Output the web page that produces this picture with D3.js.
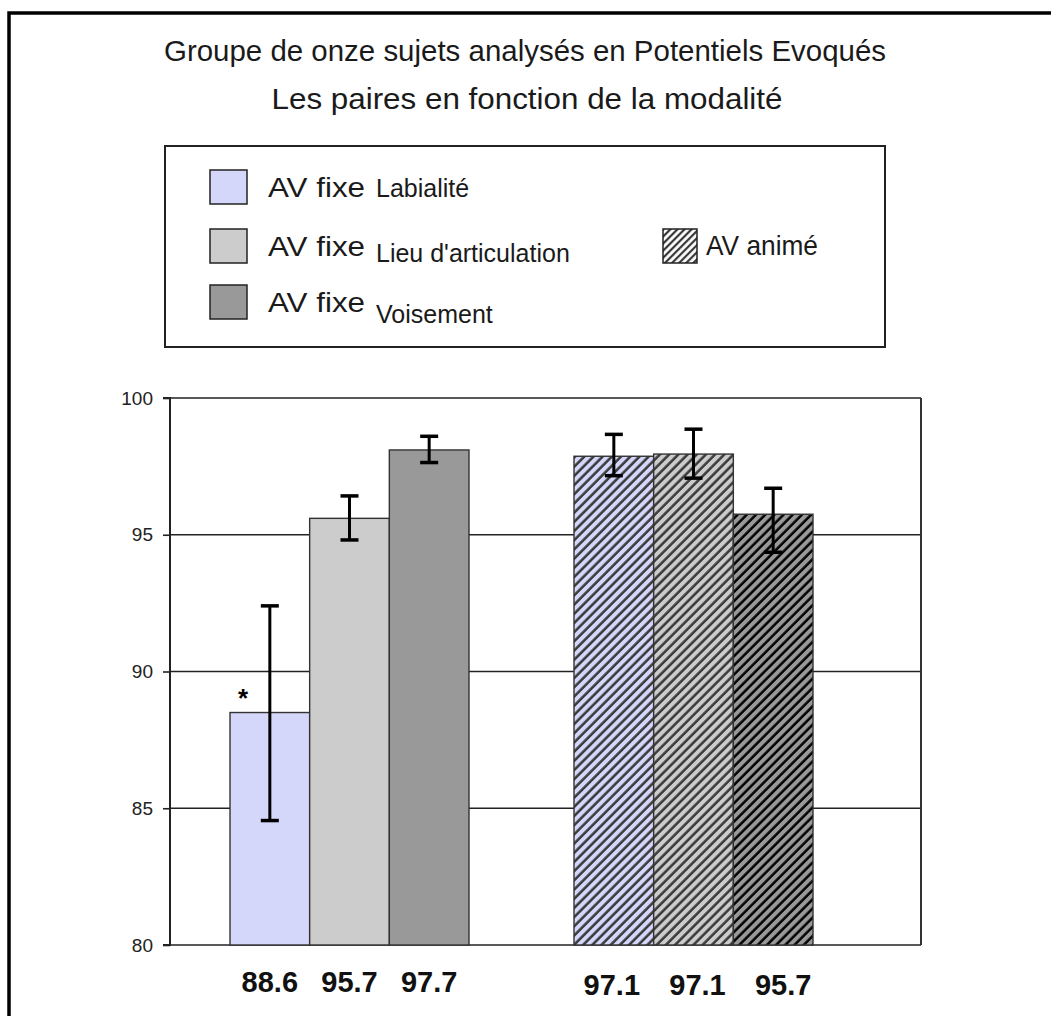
<!DOCTYPE html>
<html><head><meta charset="utf-8">
<script src="https://cdn.jsdelivr.net/npm/d3@7"></script>
<style>body{margin:0;background:#fff}svg{display:block}text{font-family:"Liberation Sans",Arial,sans-serif}</style>
</head><body>
<svg id="c" width="1051" height="1016"></svg>
<script>
const titleLines = ["Groupe de onze sujets analysés en Potentiels Evoqués", "Les paires en fonction de la modalité"];
const groups = ["AV fixe", "AV animé"];
const seriesNames = ["Labialité", "Lieu d'articulation", "Voisement"];
const seriesColors = ["#d4d6fa", "#cccccc", "#999999"];
const fixeValues = [88.5, 95.6, 98.1];
const animeValues = [97.87, 97.95, 95.75];
const fixeErrPlus = [3.9, 0.82, 0.5];
const fixeErrMinus = [3.95, 0.79, 0.46];
const animeErrPlus = [0.8, 0.91, 0.95];
const animeErrMinus = [0.71, 0.88, 1.39];
const fixeLabels = ["88.6", "95.7", "97.7"];
const animeLabels = ["97.1", "97.1", "95.7"];
const yTicks = [80, 85, 90, 95, 100];
const significance = ["*", "", ""];

const svg = d3.select("#c");
svg.append("path").attr("d","M9,1016V13H1051").attr("fill","none").attr("stroke","#000").attr("stroke-width",3.5);

svg.append("text").attr("x",525).attr("y",61).attr("text-anchor","middle").attr("font-size",30)
  .attr("textLength",722).attr("lengthAdjust","spacingAndGlyphs").attr("fill","#1a1a1a").text(titleLines[0]);
svg.append("text").attr("x",527).attr("y",109).attr("text-anchor","middle").attr("font-size",30)
  .attr("textLength",511).attr("lengthAdjust","spacingAndGlyphs").attr("fill","#1a1a1a").text(titleLines[1]);

const defs = svg.append("defs");
seriesColors.forEach((c,i)=>{
  const p = defs.append("pattern").attr("id","hatch"+i).attr("patternUnits","userSpaceOnUse")
    .attr("width",6.5).attr("height",6.5).attr("patternTransform","rotate(45)");
  p.append("rect").attr("width",6.5).attr("height",6.5).attr("fill",c);
  p.append("line").attr("x1",1.5).attr("y1",-1).attr("x2",1.5).attr("y2",8).attr("stroke", i===2?"#000":"#383838").attr("stroke-width",2.5);
});
const hatchLegend = defs.append("pattern").attr("id","hatchL").attr("patternUnits","userSpaceOnUse")
    .attr("width",5).attr("height",5).attr("patternTransform","rotate(45)");
hatchLegend.append("rect").attr("width",5).attr("height",5).attr("fill","#fff");
hatchLegend.append("line").attr("x1",1.2).attr("y1",-1).attr("x2",1.2).attr("y2",6).attr("stroke","#222").attr("stroke-width",2);

const lg = svg.append("g");
lg.append("rect").attr("x",165).attr("y",146).attr("width",720).attr("height",201).attr("fill","#fff").attr("stroke","#222").attr("stroke-width",2);
const rowY = [187, 246, 302];
const smallBase = [197, 262, 323];
seriesNames.forEach((s,i)=>{
  lg.append("rect").attr("x",210).attr("y",rowY[i]-17).attr("width",37).attr("height",34).attr("fill",seriesColors[i]).attr("stroke","#222").attr("stroke-width",1.5);
  lg.append("text").attr("x",268).attr("y",rowY[i]+10).attr("font-size",28).attr("textLength",97).attr("lengthAdjust","spacingAndGlyphs").attr("fill","#1a1a1a").text(groups[0]);
  lg.append("text").attr("x",376).attr("y",smallBase[i]).attr("font-size",25).attr("fill","#1a1a1a").text(s);
});
lg.append("rect").attr("x",663).attr("y",229).attr("width",34).attr("height",34).attr("fill","url(#hatchL)").attr("stroke","#222").attr("stroke-width",1.5);
lg.append("text").attr("x",706).attr("y",255).attr("font-size",28).attr("textLength",112).attr("lengthAdjust","spacingAndGlyphs").attr("fill","#1a1a1a").text(groups[1]);

const pLeft=170, pRight=921, pTop=398, pBottom=945;
const y = d3.scaleLinear().domain([80,100]).range([pBottom,pTop]);
const x0 = d3.scaleBand().domain(groups).range([177.5, 865.5]);
const x1 = d3.scaleBand().domain(seriesNames).range([52.5, 291.5]);

const plot = svg.append("g");
plot.append("rect").attr("x",pLeft).attr("y",pTop).attr("width",pRight-pLeft).attr("height",pBottom-pTop).attr("fill","#fff");
plot.selectAll(".grid").data(yTicks).join("line").attr("x1",pLeft).attr("x2",pRight)
  .attr("y1",d=>y(d)).attr("y2",d=>y(d)).attr("stroke","#222").attr("stroke-width",1.6);
plot.append("line").attr("x1",pRight).attr("x2",pRight).attr("y1",pTop).attr("y2",pBottom).attr("stroke","#333").attr("stroke-width",2);

const data = [];
seriesNames.forEach((s,i)=>data.push({g:groups[0],s,i,v:fixeValues[i],ep:fixeErrPlus[i],em:fixeErrMinus[i],fill:seriesColors[i],lab:fixeLabels[i],sig:significance[i]}));
seriesNames.forEach((s,i)=>data.push({g:groups[1],s,i,v:animeValues[i],ep:animeErrPlus[i],em:animeErrMinus[i],fill:"url(#hatch"+i+")",lab:animeLabels[i],sig:""}));

plot.selectAll(".bar").data(data).join("rect")
  .attr("x",d=>x0(d.g)+x1(d.s)).attr("width",x1.bandwidth())
  .attr("y",d=>y(d.v)).attr("height",d=>y(80)-y(d.v))
  .attr("fill",d=>d.fill).attr("stroke","#333").attr("stroke-width",1.4);

const eb = plot.selectAll(".eb").data(data).join("g");
eb.append("line").attr("x1",d=>x0(d.g)+x1(d.s)+x1.bandwidth()/2).attr("x2",d=>x0(d.g)+x1(d.s)+x1.bandwidth()/2)
  .attr("y1",d=>y(d.v+d.ep)).attr("y2",d=>y(d.v-d.em)).attr("stroke","#000").attr("stroke-width",3);
[["ep",1],["em",-1]].forEach(([k,sgn])=>{
  eb.append("line").attr("x1",d=>x0(d.g)+x1(d.s)+x1.bandwidth()/2-9).attr("x2",d=>x0(d.g)+x1(d.s)+x1.bandwidth()/2+9)
    .attr("y1",d=>y(d.v+sgn*d[k])).attr("y2",d=>y(d.v+sgn*d[k])).attr("stroke","#000").attr("stroke-width",3.5);
});

const axis = d3.axisLeft(y).tickValues(yTicks).tickSize(7).tickPadding(10);
const ag = svg.append("g").attr("transform",`translate(${pLeft},0)`).call(axis);
ag.select(".domain").attr("stroke","#222").attr("stroke-width",2).attr("d",`M-7,${pTop}H0V${pBottom}H-7`);
ag.selectAll(".tick line").attr("stroke","#222").attr("stroke-width",1.6);
ag.selectAll(".tick text").attr("font-size",19).attr("fill","#222").attr("font-family","Liberation Sans, Arial, sans-serif");

plot.selectAll(".sig").data(data.filter(d=>d.sig)).join("text")
  .attr("x",d=>x0(d.g)+x1(d.s)+13).attr("y",d=>y(d.v)-6).attr("font-size",26).attr("font-weight","bold").attr("text-anchor","middle").text(d=>d.sig);

svg.selectAll(".vl").data(data).join("text")
  .attr("x",d=>x0(d.g)+x1(d.s)+x1.bandwidth()/2 + (d.g===groups[1]? [-2,4,10][d.i] : 0))
  .attr("y",d=>d.g===groups[0]?992:995).attr("text-anchor","middle")
  .attr("font-size",29).attr("font-weight","bold").attr("fill","#111").text(d=>d.lab);
</script>
</body></html>
